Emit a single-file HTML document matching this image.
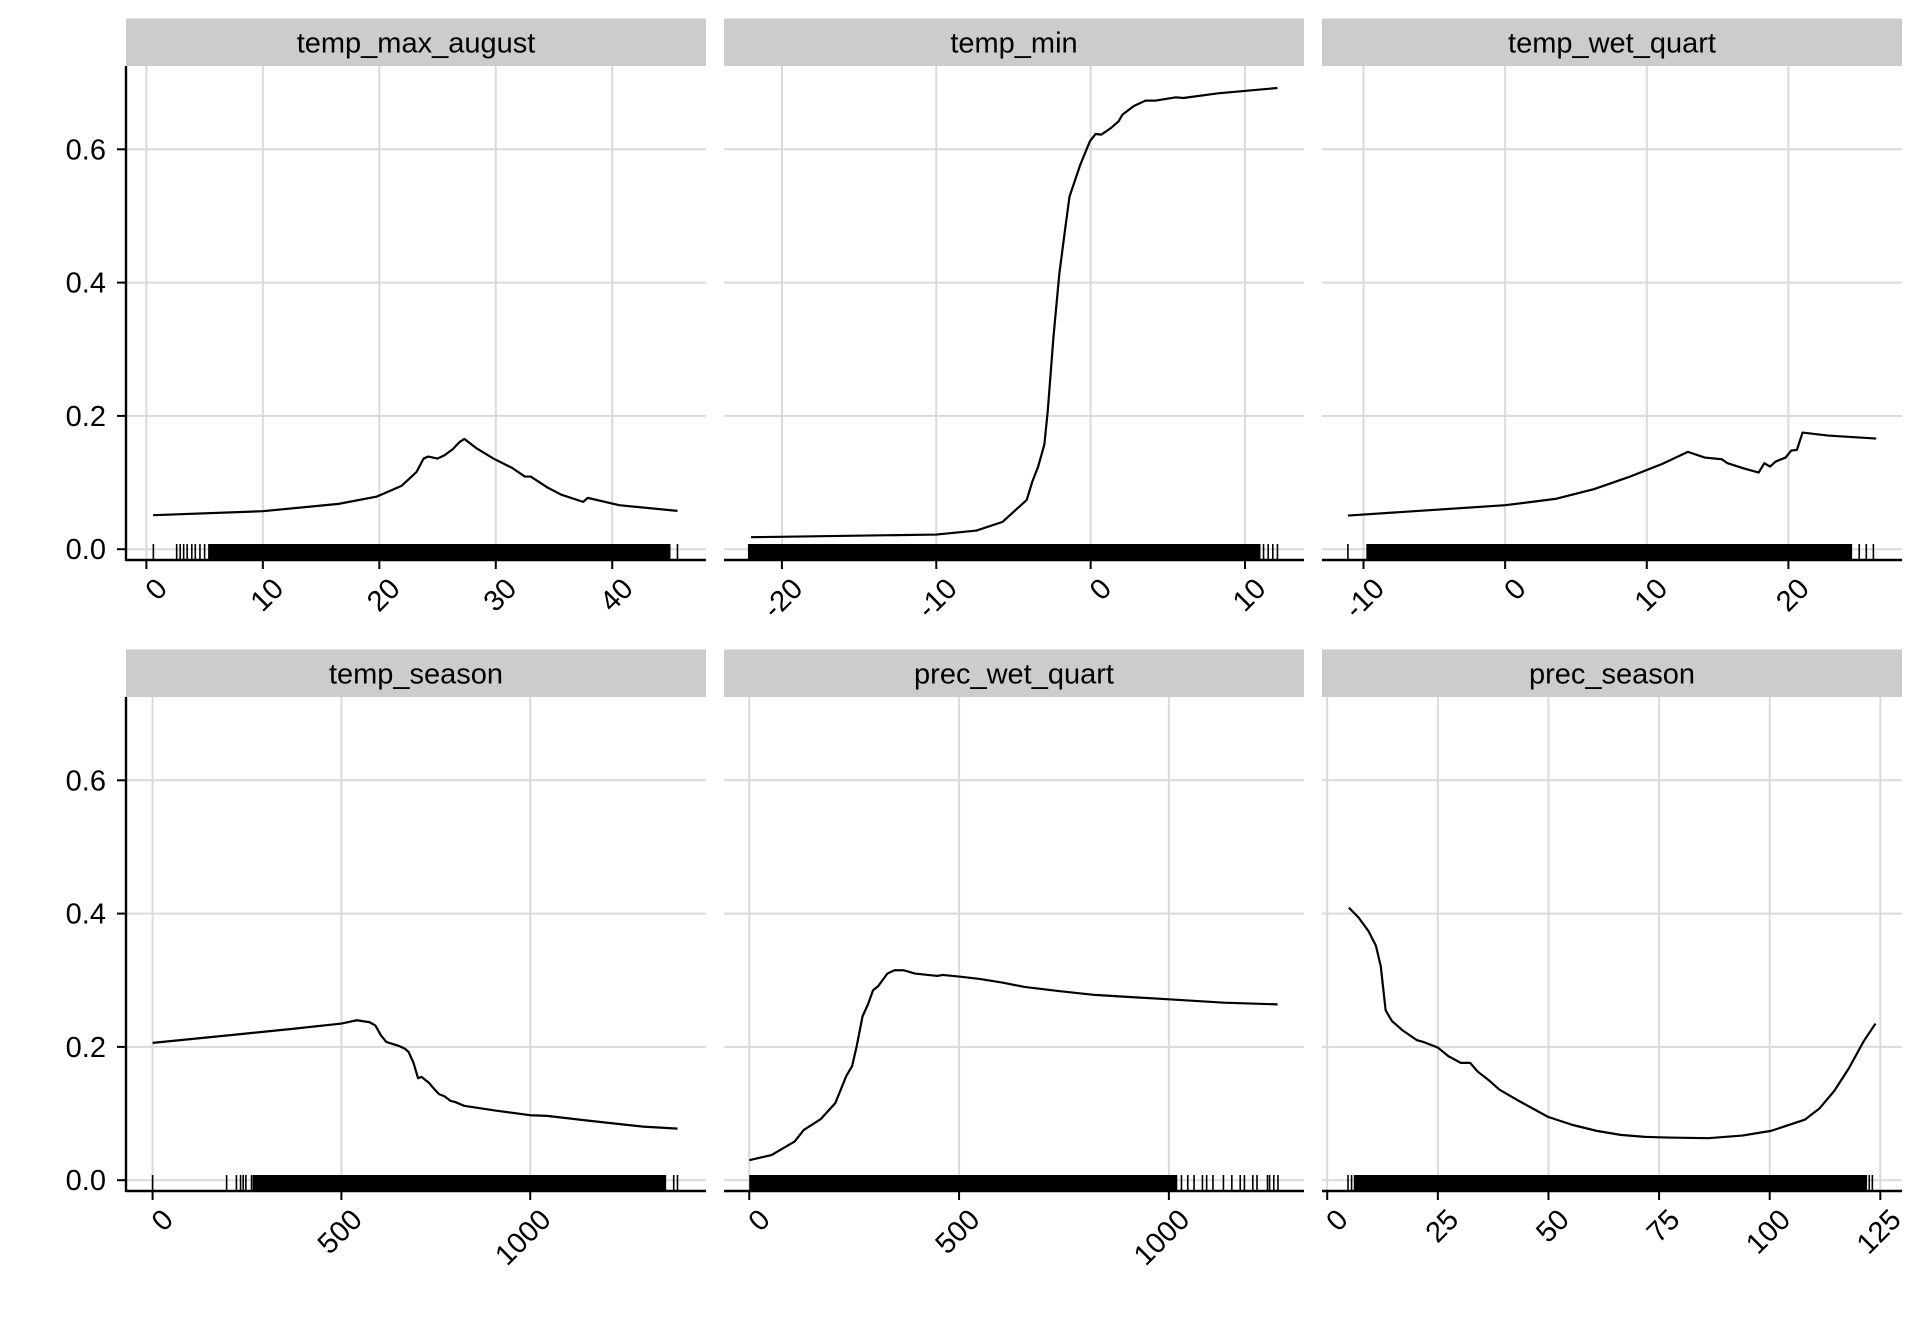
<!DOCTYPE html>
<html><head><meta charset="utf-8"><title>Partial dependence</title>
<style>html,body{margin:0;padding:0;background:#fff}svg{display:block}text{font-family:"Liberation Sans",Arial,sans-serif;fill:#000}</style>
</head><body>
<svg id="chart" width="1920" height="1344" viewBox="0 0 1920 1344" xmlns="http://www.w3.org/2000/svg"></svg>
<script>
// ---- data ----
const panelTitles = ["temp_max_august","temp_min","temp_wet_quart","temp_season","prec_wet_quart","prec_season"];
const yTicks = [0, 0.2, 0.4, 0.6];
const yTickLabels = ["0.0","0.2","0.4","0.6"];

const tmaX = [0.58,10,16.5,19.8,21.9,23.2,23.8,24.2,25.0,25.6,26.3,26.9,27.3,28.3,29.8,31.4,32.5,33.0,34.4,35.6,37.5,37.9,40.6,45.6];
const tmaY = [0.051,0.057,0.068,0.079,0.095,0.116,0.136,0.139,0.136,0.141,0.150,0.161,0.1655,0.152,0.136,0.122,0.109,0.109,0.093,0.082,0.071,0.077,0.066,0.0575];
const tmaTicks = [0,10,20,30,40];

const tminX = [-22,-10,-7.4,-5.7,-4.14,-3.77,-3.4,-3.0,-2.78,-2.41,-2.03,-1.66,-1.37,-0.67,-0.05,0.32,0.69,1.32,1.81,2.06,2.8,3.55,4.17,5.53,6.0,8.26,12.1];
const tminY = [0.018,0.022,0.028,0.041,0.074,0.102,0.124,0.157,0.207,0.318,0.413,0.479,0.529,0.577,0.612,0.623,0.622,0.632,0.642,0.652,0.665,0.673,0.673,0.678,0.677,0.684,0.692];
const tminTicks = [-20,-10,0,10];

const twqX = [-11.1,0,3.55,6.26,8.7,11.1,12.9,14.1,15.3,15.7,16.8,17.9,18.3,18.7,19.1,19.8,20.2,20.6,21.0,22.8,26.2];
const twqY = [0.0505,0.066,0.0755,0.09,0.108,0.128,0.146,0.1375,0.135,0.129,0.1215,0.115,0.129,0.124,0.1315,0.1375,0.148,0.149,0.175,0.1705,0.166];
const twqTicks = [-10,0,10,20];

const tsX = [0,223,370,500,541,575,590,605,619,654,668,678,691,703,712,732,747,759,773,789,800,825,908,1000,1045,1153,1299,1390];
const tsY = [0.206,0.2186,0.227,0.235,0.240,0.237,0.232,0.217,0.2075,0.201,0.1975,0.1925,0.176,0.153,0.155,0.146,0.136,0.129,0.126,0.119,0.1176,0.1116,0.1045,0.0975,0.0965,0.0894,0.0804,0.0774];
const tsTicks = [0,500,1000];

const pwqX = [0,53,108,130,170,205,231,245,256,270,283,295,307,329,346,368,395,448,461,500,549,603,656,735,823,1000,1132,1259];
const pwqY = [0.030,0.0377,0.058,0.0754,0.0915,0.1156,0.156,0.171,0.201,0.246,0.264,0.285,0.291,0.31,0.315,0.315,0.31,0.3065,0.308,0.3055,0.302,0.2965,0.29,0.284,0.278,0.2714,0.2663,0.2638];
const pwqTicks = [0,500,1000];

const psX = [4.9,7.1,9.3,11.0,12.1,13.2,14.6,17.0,20.3,21.9,25,27.4,30.2,32.3,34.0,36.7,38.9,43.3,46.6,49.9,55.4,60.9,66.3,71.8,77.3,86.1,93.8,100.3,108,111.3,114.6,117.9,121.2,123.9];
const psY = [0.409,0.394,0.374,0.352,0.321,0.255,0.239,0.225,0.21,0.207,0.199,0.186,0.176,0.176,0.163,0.149,0.136,0.119,0.107,0.095,0.083,0.074,0.068,0.065,0.064,0.063,0.067,0.074,0.091,0.108,0.134,0.168,0.208,0.235];
const psTicks = [0,25,50,75,100,125];

// rug: dense ranges [from,to] and isolated observations
const tmaRugDense = [[5.3,45.0]];
const tmaRugSingle = [0.6,2.6,2.9,3.2,3.5,3.9,4.2,4.6,5.0,45.6];
const tminRugDense = [[-22.2,11.0]];
const tminRugSingle = [11.2,11.5,11.8,12.1];
const twqRugDense = [[-9.8,24.5]];
const twqRugSingle = [-11.1,25.0,25.5,26.0];
const tsRugDense = [[265,1360]];
const tsRugSingle = [0,196,222,233,240,247,262,1380,1390];
const pwqRugDense = [[0,1020]];
const pwqRugSingle = [1030,1045,1060,1080,1090,1105,1130,1150,1170,1180,1200,1210,1235,1240,1250,1260];
const psRugDense = [[6,122]];
const psRugSingle = [4.7,5.5,122.5,123.2];

// ---- layout ----
const panels = [
 {col:0,row:0,xs:tmaX,ys:tmaY,ticks:tmaTicks,rd:tmaRugDense,rs:tmaRugSingle,dom:[-1.75,48.05]},
 {col:1,row:0,xs:tminX,ys:tminY,ticks:tminTicks,rd:tminRugDense,rs:tminRugSingle,dom:[-23.75,13.82]},
 {col:2,row:0,xs:twqX,ys:twqY,ticks:twqTicks,rd:twqRugDense,rs:twqRugSingle,dom:[-12.93,28.02]},
 {col:0,row:1,xs:tsX,ys:tsY,ticks:tsTicks,rd:tsRugDense,rs:tsRugSingle,dom:[-70.4,1465.5]},
 {col:1,row:1,xs:pwqX,ys:pwqY,ticks:pwqTicks,rd:pwqRugDense,rs:pwqRugSingle,dom:[-60.2,1322]},
 {col:2,row:1,xs:psX,ys:psY,ticks:psTicks,rd:psRugDense,rs:psRugSingle,dom:[-1.18,129.9]}
];
const colL = [126,724,1322], PW = 580;
const rowOff = [0,631];
const NS = "http://www.w3.org/2000/svg";
const svg = document.getElementById('chart');
function mk(tag, attrs, parent){const e=document.createElementNS(NS,tag);for(const k in attrs)e.setAttribute(k,attrs[k]);(parent||svg).appendChild(e);return e;}

panels.forEach((p,i)=>{
  const L = colL[p.col], R = L+PW, off = rowOff[p.row];
  const stripTop = 18.5+off, top = 66+off, axisY = 560+off, y0 = 549.2+off;
  const sx = v => L + (v-p.dom[0])/(p.dom[1]-p.dom[0])*PW;
  const sy = v => y0 - v*666.5;
  const g = mk('g',{});
  
  
  const strip = mk('rect',{x:L,y:stripTop,width:PW,height:top-stripTop,fill:'#cccccc'},g);
  
  
  const st = mk('text',{x:L+PW/2,y:stripTop+34,'text-anchor':'middle','font-size':'29'},g);
  st.textContent = panelTitles[i];
  
  
  // grid
  yTicks.forEach(t=>{const l=mk('line',{x1:L,x2:R,y1:sy(t),y2:sy(t),stroke:'#dadada','stroke-width':2},g);
    });
  p.ticks.forEach(t=>{const l=mk('line',{x1:sx(t),x2:sx(t),y1:top,y2:axisY,stroke:'#dadada','stroke-width':2},g);
    });
  // rug
  p.rd.forEach(r=>{const e=mk('rect',{x:sx(r[0]),y:axisY-16,width:sx(r[1])-sx(r[0]),height:16,fill:'#000'},g);
    });
  p.rs.forEach(v=>{const e=mk('line',{x1:sx(v),x2:sx(v),y1:axisY-16,y2:axisY,stroke:'#000','stroke-width':1.6},g);
    });
  // curve
  const d = p.xs.map((x,k)=>(k?'L':'M')+sx(x).toFixed(2)+','+sy(p.ys[k]).toFixed(2)).join(' ');
  const path = mk('path',{d:d,fill:'none',stroke:'#000','stroke-width':2.2,'stroke-linejoin':'round'},g);
  
  
  // x axis
  const xa = mk('line',{x1:L,x2:R,y1:axisY,y2:axisY,stroke:'#000','stroke-width':2.4},g);
  
  p.ticks.forEach(t=>{
    const tk=mk('line',{x1:sx(t),x2:sx(t),y1:axisY,y2:axisY+9,stroke:'#000','stroke-width':2},g);
    
    const tx=mk('text',{'text-anchor':'end','font-size':'29',transform:'translate('+(sx(t)+8)+','+(axisY+16)+') rotate(-45)',dy:'0.7em'},g);
    tx.textContent=String(t);
    
  });
  if(p.col===0){
    const ya=mk('line',{x1:L,x2:L,y1:top,y2:axisY+1,stroke:'#000','stroke-width':2.4},g);
    
    yTicks.forEach((t,k)=>{
      const tk=mk('line',{x1:L-9,x2:L,y1:sy(t),y2:sy(t),stroke:'#000','stroke-width':2},g);
      
      const tx=mk('text',{x:L-20,y:sy(t)+10,'text-anchor':'end','font-size':'29'},g);
      tx.textContent=yTickLabels[k];
      
    });
  }
});
</script>
</body></html>
